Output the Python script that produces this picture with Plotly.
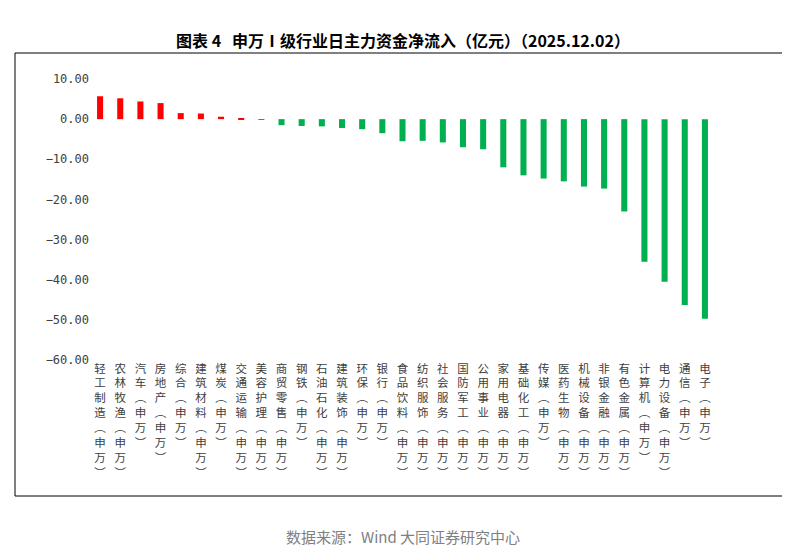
import plotly.graph_objects as go

industries = ["轻工制造", "农林牧渔", "汽车", "房地产", "综合", "建筑材料", "煤炭", "交通运输",
              "美容护理", "商贸零售", "钢铁", "石油石化", "建筑装饰", "环保", "银行", "食品饮料",
              "纺织服饰", "社会服务", "国防军工", "公用事业", "家用电器", "基础化工", "传媒",
              "医药生物", "机械设备", "非银金融", "有色金属", "计算机", "电力设备", "通信", "电子"]
net_inflow = [5.7, 5.2, 4.4, 4.0, 1.5, 1.4, 0.6, 0.3, -0.2, -1.5, -1.7, -1.8, -2.2, -2.5,
              -3.5, -5.5, -5.4, -5.8, -7.0, -7.5, -12.0, -14.0, -14.8, -15.5, -16.8, -17.3,
              -23.0, -35.5, -40.5, -46.3, -49.7]
y_ticks = [10, 0, -10, -20, -30, -40, -50, -60]

W, H = 790, 556
L, R, T, B = 82, 83, 71, 204
pw, ph = W - L - R, H - T - B


def px_x(x):
    return (x - L) / pw


def px_y(y):
    return (H - B - y) / ph


labels = ["<br>".join(list(n + "︵申万︶")) for n in industries]
colors = ["#FF0000" if v > 0 else "#00B050" for v in net_inflow]

fig = go.Figure(go.Bar(x=industries, y=net_inflow, marker_color=colors, marker_line_width=0))

fig.update_layout(
    width=W, height=H,
    margin=dict(l=L, r=R, t=T, b=B, autoexpand=False),
    plot_bgcolor="white", paper_bgcolor="white",
    bargap=0.7, showlegend=False,
    font=dict(family="Noto Sans CJK SC", color="#404040"),
)
fig.update_xaxes(tickmode="array", tickvals=industries, ticktext=labels, automargin=False,
                 tickangle=0, tickfont=dict(size=11.5, color="#404040"), showgrid=False,
                 showline=False, ticks="")
fig.update_yaxes(range=[-60, 10], tickvals=y_ticks, tickformat=".2f", showgrid=False,
                 zeroline=False, showline=False, automargin=False,
                 tickfont=dict(size=12, family="DejaVu Sans Mono", color="#404040"))

fig.add_shape(type="rect", xref="paper", yref="paper",
              x0=px_x(7), x1=px_x(783), y0=px_y(488), y1=px_y(45),
              line=dict(color="#000000", width=1))
fig.add_annotation(text="<b>图表 4   申万Ⅰ级行业日主力资金净流入（亿元）（2025.12.02）</b>",
                   xref="paper", yref="paper", x=px_x(W / 2), y=px_y(18),
                   showarrow=False, font=dict(size=16, color="#000000"))
fig.add_annotation(text="数据来源：Wind 大同证券研究中心",
                   xref="paper", yref="paper", x=px_x(W / 2), y=px_y(541),
                   showarrow=False, font=dict(size=15, color="#808080"))

fig.write_html("out.html")
